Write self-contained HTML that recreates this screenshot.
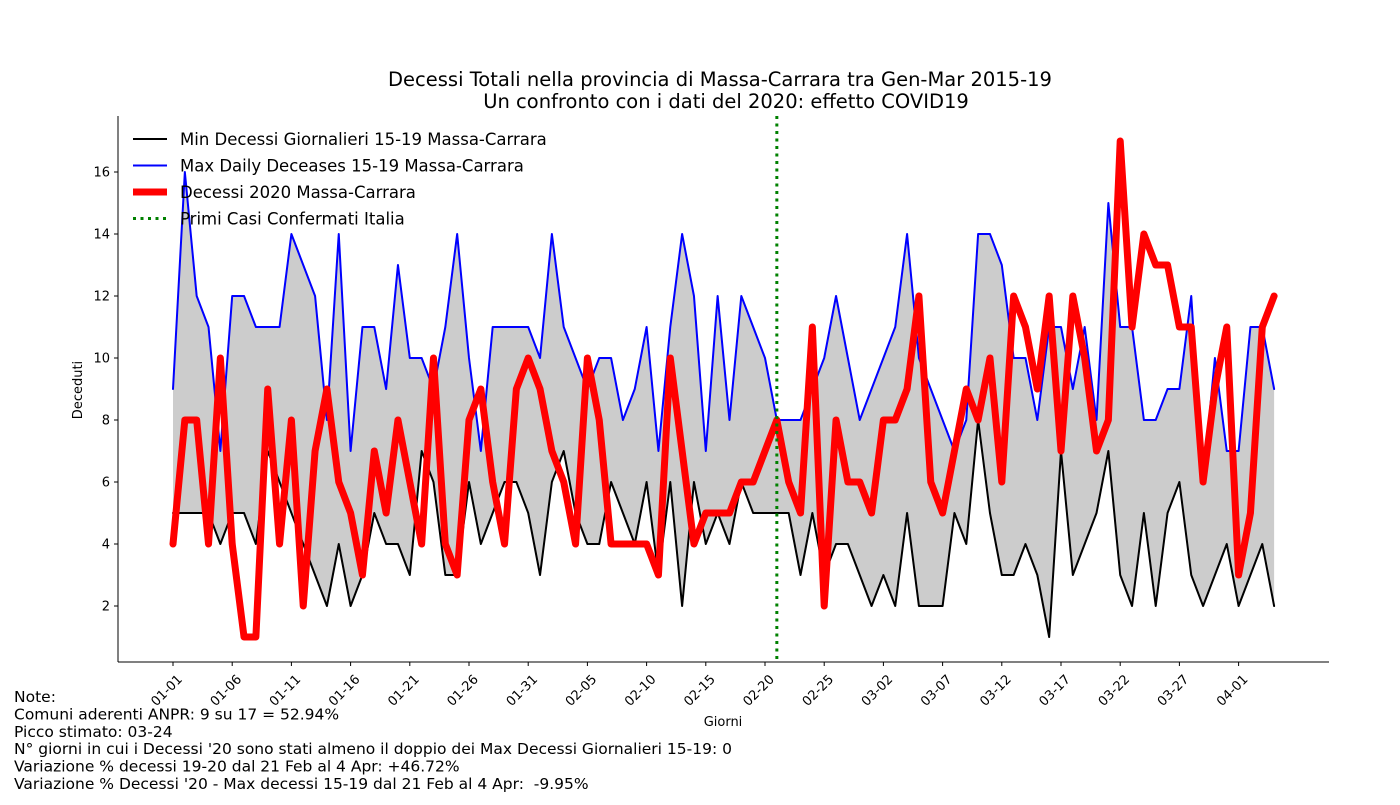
<!DOCTYPE html>
<html><head><meta charset="utf-8"><style>
body{margin:0;background:#fff;font-family:"Liberation Sans","DejaVu Sans",sans-serif}
svg text{font-family:"DejaVu Sans","Liberation Sans",sans-serif}
</style></head><body>
<svg id="c" width="1400" height="800" xmlns="http://www.w3.org/2000/svg"></svg>
<script>
const minVals=[5,5,5,5,4,5,5,4,7,6, 5,4,3,2,4,2,3,5,4,4, 3,7,6,3,3,6,4,5,6,6, 5,3,6,7,5,4,4,6,5,4, 6,3,6,2,6,4,5,4,6,5, 5,5,5,3,5,3,4,4,3,2, 3,2,5,2,2,2,5,4,8,5, 3,3,4,3,1,7,3,4,5,7, 3,2,5,2,5,6,3,2,3,4, 2,3,4,2];
const maxVals=[9,16,12,11,7,12,12,11,11,11, 14,13,12,8,14,7,11,11,9,13, 10,10,9,11,14,10,7,11,11,11, 11,10,14,11,10,9,10,10,8,9, 11,7,11,14,12,7,12,8,12,11, 10,8,8,8,9,10,12,10,8,9, 10,11,14,10,9,8,7,8,14,14, 13,10,10,8,11,11,9,11,8,15, 11,11,8,8,9,9,12,6,10,7, 7,11,11,9];
const vals2020=[4,8,8,4,10,4,1,1,9,4, 8,2,7,9,6,5,3,7,5,8, 6,4,10,4,3,8,9,6,4,9, 10,9,7,6,4,10,8,4,4,4, 4,3,10,7,4,5,5,5,6,6, 7,8,6,5,11,2,8,6,6,5, 8,8,9,12,6,5,7,9,8,10, 6,12,11,9,12,7,12,10,7,8, 17,11,14,13,13,11,11,6,9,11, 3,5,11,12];
const yTicks=[2,4,6,8,10,12,14,16];
const firstCaseDay=51;
const notes=["Note:","Comuni aderenti ANPR: 9 su 17 = 52.94%","Picco stimato: 03-24","N° giorni in cui i Decessi '20 sono stati almeno il doppio dei Max Decessi Giornalieri 15-19: 0","Variazione % decessi 19-20 dal 21 Feb al 4 Apr: +46.72%","Variazione % Decessi '20 - Max decessi 15-19 dal 21 Feb al 4 Apr:  -9.95%"];

const NS="http://www.w3.org/2000/svg",svg=document.getElementById('c');
const L=118,R=1329,T=116,B=662;
const X=d=>173+d*11.84;
const Y=v=>668-v*31;
function el(t,a,p){const e=document.createElementNS(NS,t);for(const k in a)e.setAttribute(k,a[k]);(p||svg).appendChild(e);return e;}
function txt(s,a){const e=el('text',a);e.textContent=s;return e;}
function label(d){const dt=new Date(2019,0,1+d);return String(dt.getMonth()+1).padStart(2,'0')+'-'+String(dt.getDate()).padStart(2,'0');}

let pts=maxVals.map((v,i)=>X(i)+','+Y(v));
for(let i=minVals.length-1;i>=0;i--)pts.push(X(i)+','+Y(minVals[i]));
let f=el('polygon',{points:pts.join(' '),fill:'#cccccc'});


function line(arr,color,w,name){const p=el('polyline',{points:arr.map((v,i)=>X(i)+','+Y(v)).join(' '),fill:'none',stroke:color,'stroke-width':w,'stroke-linejoin':'round','stroke-linecap':'round'});

}
line(minVals,'#000',2,'min-line');
line(maxVals,'#0000ff',2,'max-line');
line(vals2020,'#ff0000',7,'line-2020');
let g=el('line',{x1:X(firstCaseDay),x2:X(firstCaseDay),y1:T,y2:B,stroke:'#008000','stroke-width':3,'stroke-dasharray':'3,4.5'});



el('line',{x1:L,x2:L,y1:T,y2:B,stroke:'#000','stroke-width':1});
el('line',{x1:L,x2:R,y1:B,y2:B,stroke:'#000','stroke-width':1});
yTicks.forEach(v=>{el('line',{x1:L-4,x2:L,y1:Y(v),y2:Y(v),stroke:'#000'});
const t=txt(v,{x:L-8,y:Y(v)+4.5,'text-anchor':'end','font-size':13});

});
for(let d=0;d<=90;d+=5){el('line',{x1:X(d),x2:X(d),y1:B,y2:B+4,stroke:'#000'});
const lx=X(d)+10,ly=B+18;
const t=txt(label(d),{x:lx,y:ly,'text-anchor':'end','font-size':13,transform:`rotate(-45 ${lx} ${ly})`});

}
let yl=txt('Deceduti',{x:82,y:390,'text-anchor':'middle','font-size':13,transform:'rotate(-90 82 390)'});


let xl=txt('Giorni',{x:723,y:726,'text-anchor':'middle','font-size':13});


let t1=txt('Decessi Totali nella provincia di Massa-Carrara tra Gen-Mar 2015-19',{x:720,y:86,'text-anchor':'middle','font-size':19.5});


let t2=txt('Un confronto con i dati del 2020: effetto COVID19',{x:726,y:108,'text-anchor':'middle','font-size':19.5});



const leg=[['Min Decessi Giornalieri 15-19 Massa-Carrara','#000',2,null],['Max Daily Deceases 15-19 Massa-Carrara','#0000ff',2,null],['Decessi 2020 Massa-Carrara','#ff0000',7,null],['Primi Casi Confermati Italia','#008000',3,'3,4.5']];
leg.forEach((l,i)=>{const y=139+i*26.5;
const a={x1:133,x2:167,y1:y,y2:y,stroke:l[1],'stroke-width':l[2]};if(l[3])a['stroke-dasharray']=l[3];
el('line',a);
const t=txt(l[0],{x:180,y:y+6,'font-size':16.5});

});

notes.forEach((n,i)=>{const t=txt(n,{x:14,y:702+i*17.4,'font-size':15.5,style:'white-space:pre'});

});
</script>
</body></html>
